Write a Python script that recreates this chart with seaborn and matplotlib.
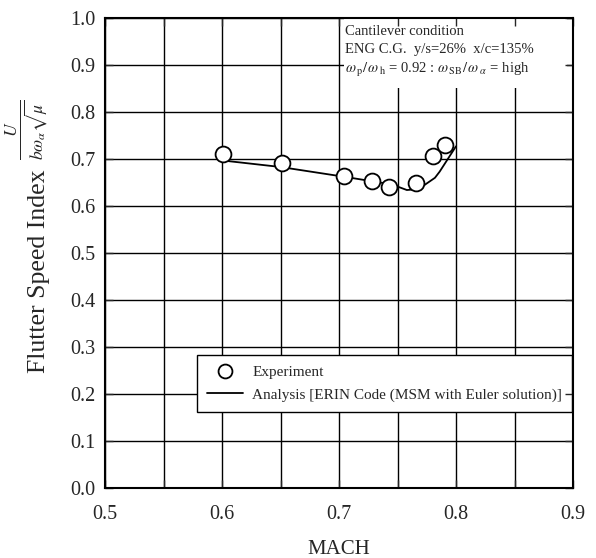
import matplotlib
matplotlib.use("Agg")
import matplotlib.pyplot as plt
import seaborn as sns
import pandas as pd
from matplotlib.lines import Line2D
from matplotlib.patches import Rectangle
from matplotlib.ticker import MultipleLocator

# ---- data ----
exp_mach = [0.601, 0.651, 0.704, 0.728, 0.743, 0.766, 0.780, 0.791]
exp_fsi = [0.711, 0.691, 0.664, 0.653, 0.641, 0.650, 0.706, 0.730]

ana_mach = [0.600, 0.650, 0.705, 0.745, 0.758, 0.768, 0.782, 0.786, 0.800]
ana_fsi = [0.697, 0.683, 0.662, 0.646, 0.634, 0.636, 0.660, 0.673, 0.727]

x_ticks = [0.5, 0.6, 0.7, 0.8, 0.9]
y_ticks = [0.0, 0.1, 0.2, 0.3, 0.4, 0.5, 0.6, 0.7, 0.8, 0.9, 1.0]

legend_labels = ["Experiment", "Analysis [ERIN Code (MSM with Euler solution)]"]
info_lines = [
    "Cantilever condition",
    "ENG C.G.  y/s=26%  x/c=135%",
    r"$\omega_{\,\mathrm{p}}/\,\omega_{\,\mathrm{h}}$ = 0.92 : $\omega_{\,\mathrm{SB}}/\,\omega_{\;\alpha}$ = high",
]

exp_df = pd.DataFrame({"MACH": exp_mach, "FSI": exp_fsi})
ana_df = pd.DataFrame({"MACH": ana_mach, "FSI": ana_fsi})

sns.set_style("ticks")
plt.rcParams["font.family"] = ["Liberation Serif", "DejaVu Serif"]
plt.rcParams["mathtext.fontset"] = "stix"

fig = plt.figure(figsize=(5.96, 5.58), dpi=100)
pos = [105 / 596, 1 - 488 / 558, 468 / 596, 470 / 558]
ax = fig.add_axes(pos)

sns.lineplot(data=ana_df, x="MACH", y="FSI", ax=ax, color="black", lw=1.3,
             sort=False, zorder=3, legend=False)
sns.scatterplot(data=exp_df, x="MACH", y="FSI", ax=ax, s=130, marker="o",
                facecolor="white", edgecolor="black", linewidth=1.3,
                zorder=4, legend=False)

ax.set_xlim(0.5, 0.9)
ax.set_ylim(0.0, 1.0)
ax.set_xticks(x_ticks)
ax.set_xticklabels([f"{v:.1f}" for v in x_ticks])
ax.set_yticks(y_ticks)
ax.set_yticklabels([f"{v:.1f}" for v in y_ticks])
ax.xaxis.set_minor_locator(MultipleLocator(0.05))
ax.grid(True, which="both", axis="x", color="black", lw=1.0)
ax.grid(True, which="major", axis="y", color="black", lw=1.0)
ax.tick_params(which="both", length=0, labelsize=14.5)
ax.tick_params(axis="x", pad=12)
ax.tick_params(axis="y", pad=7)
for s in ax.spines.values():
    s.set_visible(False)

ax.set_xlabel("MACH", fontsize=15, labelpad=12)
ax.set_ylabel("Flutter Speed Index", fontsize=18.5)
ax.yaxis.set_label_coords(-0.117, 0.462)
ax.text(-0.165, 0.762, r"$\frac{U}{b\omega_\alpha\sqrt{\mu}}$", transform=ax.transAxes,
        rotation=90, fontsize=18, ha="center", va="center")

# info box
ax.add_patch(Rectangle((0.51, 0.851), 0.478, 0.149, transform=ax.transAxes,
                       facecolor="white", edgecolor="none", zorder=5))
ax.text(0.512, 0.985, "\n".join(info_lines), transform=ax.transAxes, ha="left", va="top",
        fontsize=10.5, linespacing=1.45, zorder=6)

# legend
handles = [
    Line2D([], [], ls="none", marker="o", markersize=10, markerfacecolor="white",
           markeredgecolor="black", markeredgewidth=1.3),
    Line2D([], [], color="black", lw=1.3),
]
leg = ax.legend(handles, legend_labels, loc="lower left",
                bbox_to_anchor=(0.197, 0.162, 0.801, 0.119), mode="expand",
                borderaxespad=0, fontsize=11, frameon=True, fancybox=False,
                edgecolor="black", framealpha=1, handlelength=2.35,
                handletextpad=0.6, labelspacing=0.6, borderpad=0.65)
leg.get_frame().set_linewidth(1.0)
leg.set_zorder(7)

# overlay axes for ticks and frame on top
ax2 = fig.add_axes(pos, sharex=ax, sharey=ax, facecolor="none")
ax2.tick_params(which="both", direction="in", top=True, right=True, bottom=True,
                left=True, length=6, width=1.0, labelbottom=False, labelleft=False)
ax2.set_zorder(10)
for s in ax2.spines.values():
    s.set_visible(True)
    s.set_linewidth(1.5)
    s.set_color("black")
ax2.set_xlabel("")
ax2.set_ylabel("")

fig.savefig("out.png", dpi=100)
